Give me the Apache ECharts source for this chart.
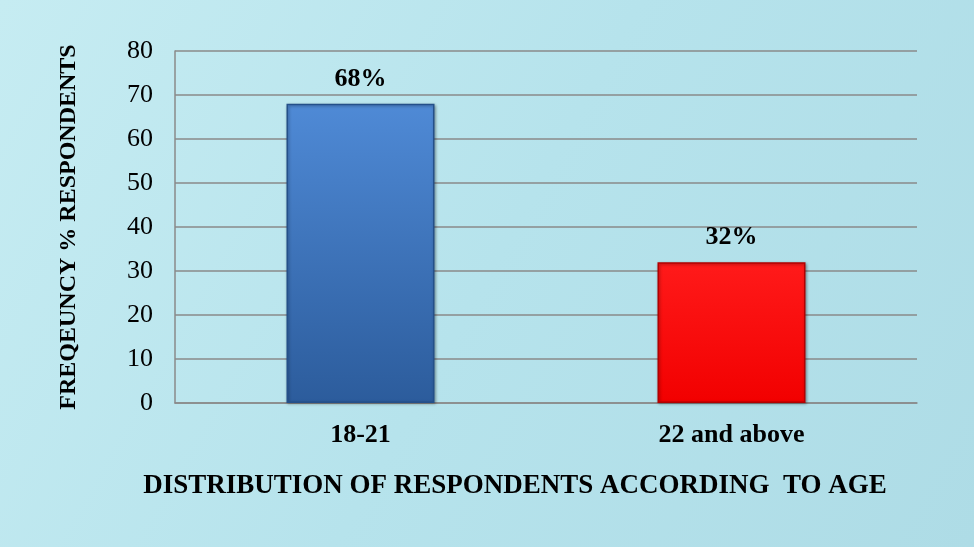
<!DOCTYPE html>
<html>
<head>
<meta charset="utf-8">
<script src="https://cdn.jsdelivr.net/npm/echarts@6/dist/echarts.min.js"></script>
<style>
  html, body { margin: 0; padding: 0; }
  #chart { width: 974px; height: 547px; }
</style>
</head>
<body>
<div id="chart"></div>
<script>
// Age groups and share of respondents (%)
const categories = ['18-21', '22 and above'];
const values = [68, 32];
const valueLabels = ['68%', '32%'];
const yTicks = { min: 0, max: 80, interval: 10 };

const barStyles = [
  { top: '#4f8ad6', bottom: '#2c5c9c', border: '#24508a' },
  { top: '#ff1a1a', bottom: '#f20000', border: '#b30000' }
];

const serif = '"Liberation Serif", "Times New Roman", serif';

const chart = echarts.init(document.getElementById('chart'));
chart.setOption({
  backgroundColor: {
    type: 'linear', x: 0, y: 0, x2: 1, y2: 1,
    colorStops: [
      { offset: 0, color: '#c6ecf2' },
      { offset: 0.5, color: '#b6e3ec' },
      { offset: 1, color: '#aedce6' }
    ]
  },
  grid: { left: 175, right: 57, top: 51, bottom: 144, containLabel: false },
  xAxis: {
    type: 'category',
    data: categories,
    axisLine: { show: true, lineStyle: { color: '#8a8a8a', width: 1.5 } },
    axisTick: { show: false },
    axisLabel: {
      color: '#000', fontFamily: serif, fontSize: 26, fontWeight: 'bold', margin: 19
    },
    name: 'DISTRIBUTION OF RESPONDENTS ACCORDING  TO AGE',
    nameLocation: 'middle',
    nameGap: 70,
    nameTextStyle: {
      color: '#000', fontFamily: serif, fontSize: 27, fontWeight: 'bold',
      padding: [0, 0, 0, -62]
    }
  },
  yAxis: {
    type: 'value',
    min: yTicks.min, max: yTicks.max, interval: yTicks.interval,
    axisLine: { show: true, lineStyle: { color: '#8a8a8a', width: 1.5 } },
    axisTick: { show: false },
    splitLine: { show: true, lineStyle: { color: '#8a8a8a', width: 1.5 } },
    axisLabel: { color: '#000', fontFamily: serif, fontSize: 26, margin: 22 },
    name: 'FREQEUNCY % RESPONDENTS',
    nameLocation: 'middle',
    nameGap: 86,
    nameRotate: 90,
    nameTextStyle: {
      color: '#000', fontFamily: serif, fontSize: 24, fontWeight: 'bold',
      padding: [0, 0, 8, 0]
    }
  },
  series: [{
    type: 'bar',
    barWidth: 148,
    data: values.map((v, i) => ({
      value: v,
      itemStyle: {
        color: {
          type: 'linear', x: 0, y: 0, x2: 0, y2: 1,
          colorStops: [
            { offset: 0, color: barStyles[i].top },
            { offset: 1, color: barStyles[i].bottom }
          ]
        },
        borderColor: barStyles[i].border,
        borderWidth: 1.5,
        shadowColor: 'rgba(0,0,0,0.35)',
        shadowBlur: 3,
        shadowOffsetX: 1,
        shadowOffsetY: 1
      },
      label: {
        show: true,
        position: 'top',
        distance: 12,
        formatter: valueLabels[i],
        color: '#000', fontFamily: serif, fontSize: 26, fontWeight: 'bold'
      }
    }))
  }]
});
</script>
</body>
</html>
